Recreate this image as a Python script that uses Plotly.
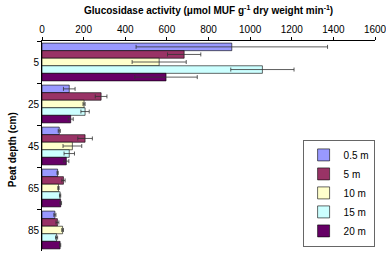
import plotly.graph_objects as go

depths = ["5", "25", "45", "65", "85"]
series = ["0.5 m", "5 m", "10 m", "15 m", "20 m"]
values = {
    "0.5 m": [912, 131, 83, 75, 62],
    "5 m": [683, 284, 207, 103, 74],
    "10 m": [563, 202, 146, 79, 99],
    "15 m": [1059, 207, 131, 87, 70],
    "20 m": [596, 138, 117, 90, 87],
}
errors = {
    "0.5 m": [460, 28, 5, 3, 5],
    "5 m": [80, 28, 35, 8, 7],
    "10 m": [130, 5, 45, 3, 4],
    "15 m": [152, 20, 25, 3, 5],
    "20 m": [150, 12, 12, 4, 3],
}
colors = ["#9999FF", "#993366", "#FFFFCC", "#CCFFFF", "#660066"]

fig = go.Figure()
for s, c in zip(series, colors):
    fig.add_trace(go.Bar(
        y=depths, x=values[s], name=s, orientation="h",
        marker=dict(color=c, line=dict(color="#000000", width=0.6)),
        error_x=dict(type="data", array=errors[s], color="#333333",
                     thickness=0.8, width=2),
    ))

fig.update_layout(
    width=386, height=254,
    margin=dict(l=42, r=11, t=41, b=3, autoexpand=False),
    paper_bgcolor="white", plot_bgcolor="white",
    barmode="group", bargap=0.1, bargroupgap=0,
    font=dict(family="Liberation Sans, Arial, sans-serif", size=10, color="#000"),
    showlegend=True,
    legend=dict(x=1.0, y=0.02, xanchor="right", yanchor="bottom",
                bordercolor="#000", borderwidth=0.6, bgcolor="white",
                traceorder="normal", font=dict(size=10),
                itemwidth=30, tracegroupgap=0),
    xaxis=dict(side="top", range=[0, 1600], dtick=200, ticks="outside",
               ticklen=3, tickcolor="#000", showline=True, linecolor="#000",
               linewidth=0.8, showgrid=False, zeroline=False,
               ticklabeloverflow="allow", tickfont=dict(size=10)),
    yaxis=dict(type="category", autorange="reversed", ticks="outside",
               tickson="boundaries", ticklen=4, tickcolor="#000",
               showline=True, linecolor="#000", linewidth=0.8,
               showgrid=False, tickfont=dict(size=10)),
    annotations=[
        dict(text="<b>Glucosidase activity (μmol MUF g<sup>-1</sup> dry weight min<sup>-1</sup>)</b>",
             xref="paper", yref="paper", x=0.5, y=1.148, xanchor="center",
             yanchor="middle", showarrow=False, font=dict(size=10)),
        dict(text="<b>Peat depth (cm)</b>", xref="paper", yref="paper",
             x=-0.09, y=0.48, xanchor="center", yanchor="middle",
             textangle=-90, showarrow=False, font=dict(size=10)),
    ],
)

fig.write_html("out.html")
